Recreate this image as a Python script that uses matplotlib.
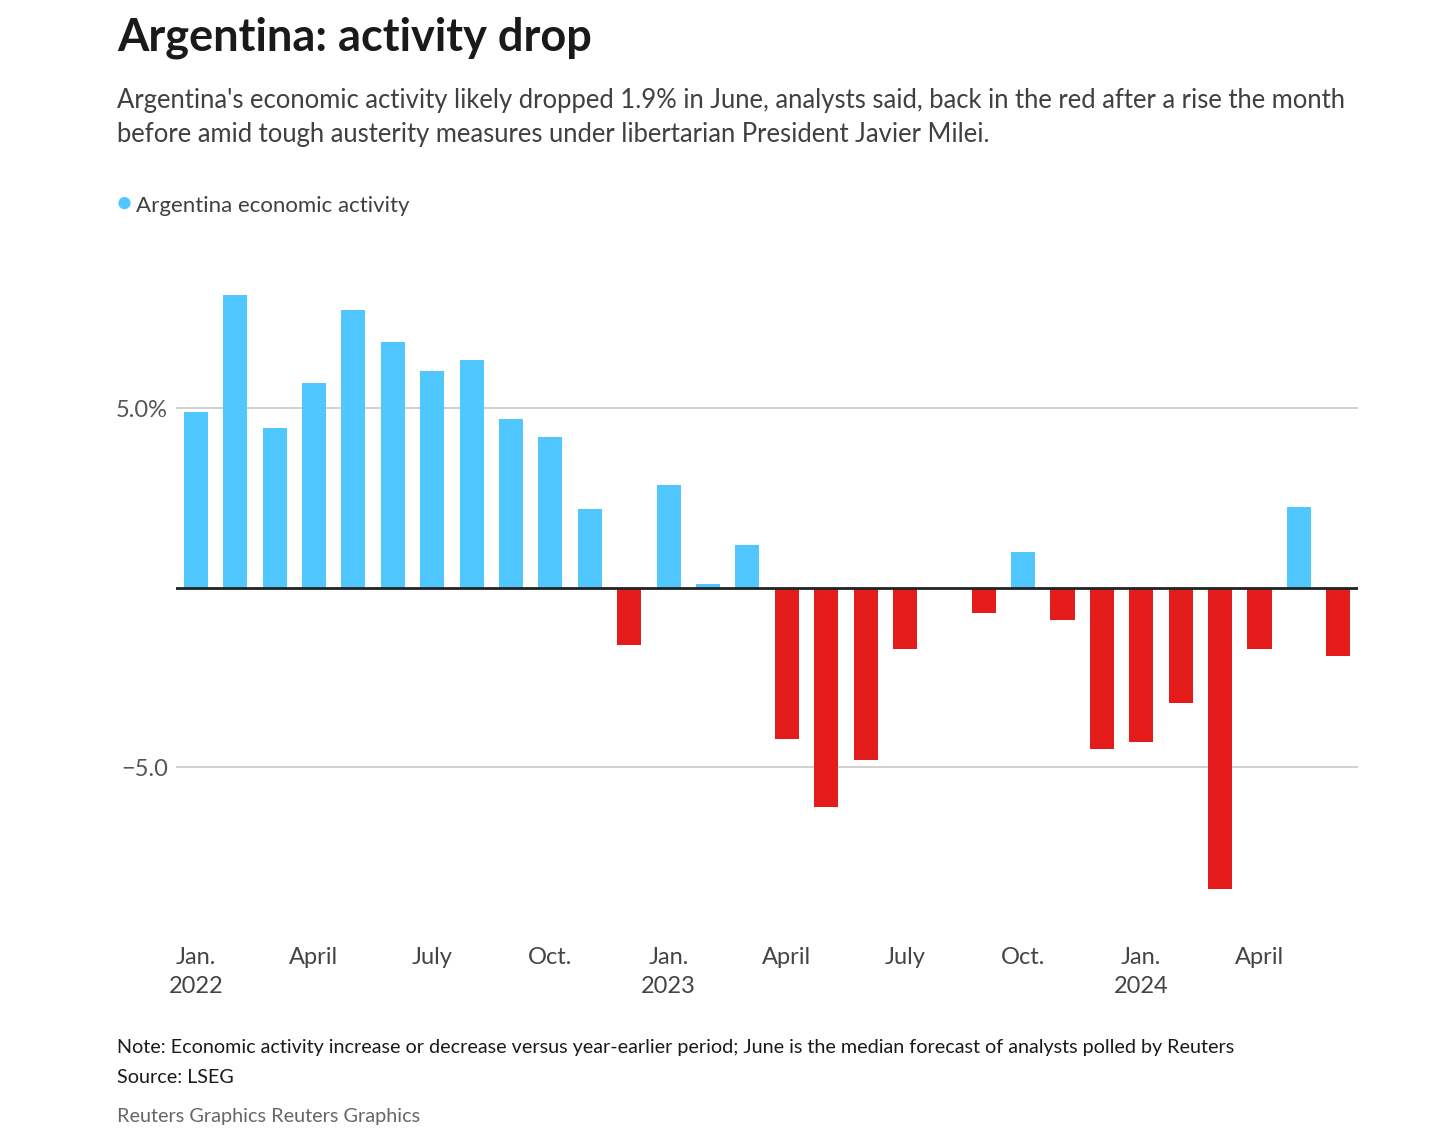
import numpy as np
import matplotlib
matplotlib.use("Agg")
import matplotlib.pyplot as plt

plt.rcParams['font.family'] = ['Lato', 'DejaVu Sans']

# Monthly change, Jan 2022 - Jun 2024 (% vs year earlier)
months = ["2022-01", "2022-02", "2022-03", "2022-04", "2022-05", "2022-06",
          "2022-07", "2022-08", "2022-09", "2022-10", "2022-11", "2022-12",
          "2023-01", "2023-02", "2023-03", "2023-04", "2023-05", "2023-06",
          "2023-07", "2023-08", "2023-09", "2023-10", "2023-11", "2023-12",
          "2024-01", "2024-02", "2024-03", "2024-04", "2024-05", "2024-06"]
activity = [4.9, 8.15, 4.45, 5.7, 7.75, 6.85,
            6.05, 6.35, 4.7, 4.2, 2.2, -1.6,
            2.85, 0.1, 1.2, -4.2, -6.1, -4.8,
            -1.7, 0.0, -0.7, 1.0, -0.9, -4.5,
            -4.3, -3.2, -8.4, -1.7, 2.25, -1.9]

tick_pos = [0, 3, 6, 9, 12, 15, 18, 21, 24, 27]
tick_labels = ["Jan.\n2022", "April", "July", "Oct.", "Jan.\n2023",
               "April", "July", "Oct.", "Jan.\n2024", "April"]

blue = "#50C8FF"
red = "#E31B1B"

fig = plt.figure(figsize=(14.56, 11.42), dpi=100)
ax = fig.add_axes([0.1209, 0.196, 0.8118, 0.588])

x = np.arange(len(activity))
vals = np.array(activity)
colors = [blue if v >= 0 else red for v in vals]
ax.bar(x, vals, width=0.61, color=colors, zorder=3)

ax.set_xlim(-0.5, len(activity) - 0.5)
ax.set_ylim(-9.2, 9.5)

# gridlines and zero line
for g in [-5, 5]:
    ax.axhline(g, color="#c8c8c8", lw=1.2, zorder=1)
ax.axhline(0, color="#222222", lw=2, zorder=4)

ax.set_yticks([-5, 5])
ax.set_yticklabels(["\u22125.0", "5.0%"])
ax.set_xticks(tick_pos)
ax.set_xticklabels(tick_labels, linespacing=1.45)
ax.tick_params(axis='y', length=0, pad=6, labelsize=17, labelcolor="#555555")
ax.tick_params(axis='x', length=0, pad=21, labelsize=17, labelcolor="#444444")
for s in ax.spines.values():
    s.set_visible(False)

# header
fig.text(0.0804, 0.956, "Argentina: activity drop", fontsize=32.5, fontweight='bold',
         color="#1a1a1a", va='baseline')
fig.text(0.0804, 0.9054, "Argentina's economic activity likely dropped 1.9% in June, analysts said, back in the red after a rise the month",
         fontsize=18.45, color="#404040", va='baseline')
fig.text(0.0804, 0.8757, "before amid tough austerity measures under libertarian President Javier Milei.",
         fontsize=18.45, color="#404040", va='baseline')

# legend
fig.text(0.0852, 0.8218, "\u25CF", fontsize=18, color=blue, va='center', ha='center')
fig.text(0.0934, 0.8144, "Argentina economic activity", fontsize=16, color="#404040", va='baseline')

# footer
fig.text(0.0804, 0.0779, "Note: Economic activity increase or decrease versus year-earlier period; June is the median forecast of analysts polled by Reuters",
         fontsize=14.2, color="#1a1a1a", va='baseline')
fig.text(0.0804, 0.0517, "Source: LSEG", fontsize=14.2, color="#1a1a1a", va='baseline')
fig.text(0.0804, 0.0175, "Reuters Graphics Reuters Graphics", fontsize=14.3, color="#666666", va='baseline')

fig.savefig("out.png", dpi=100)
